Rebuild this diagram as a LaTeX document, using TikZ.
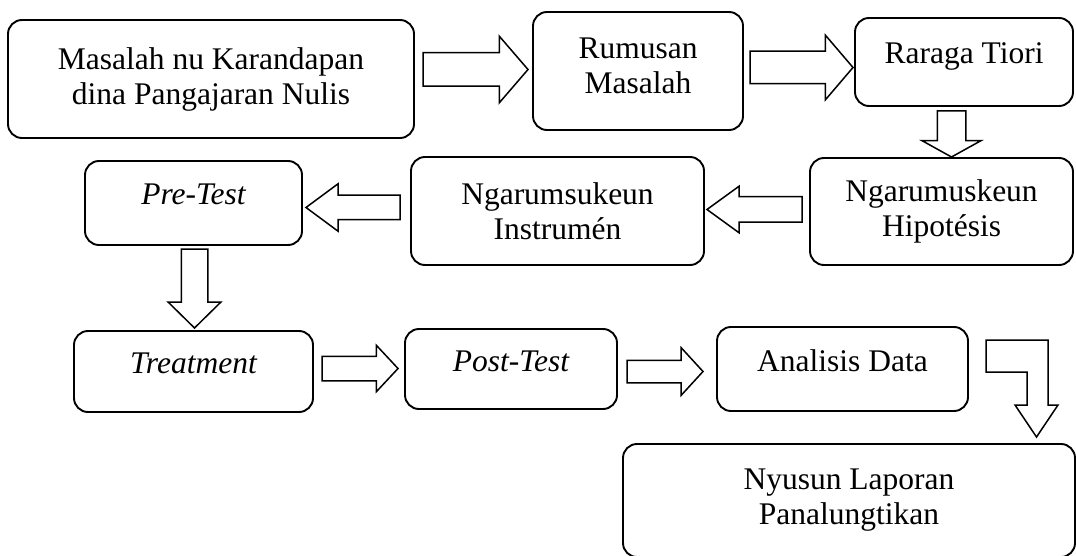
\documentclass[tikz,border=0pt]{standalone}
\usepackage{fontspec}
\setmainfont{Liberation Serif}
\usetikzlibrary{shapes.arrows}

\tikzset{
  box/.style={draw, rounded corners=14pt, line width=1.9pt, align=center, inner sep=0pt},
  oneline/.style={text height=22pt, text depth=18pt},
  % shaft half width, head extend, length, tip angle
  blk/.style n args={4}{draw, single arrow, line width=1.5pt, inner xsep=0pt, inner ysep=#1,
    outer sep=0pt, anchor=tail,
    single arrow head extend=#2, single arrow head indent=0pt, minimum height=#3,
    single arrow tip angle=#4},
}

\begin{document}
\begin{tikzpicture}[x=1pt, y=-1pt, font=\fontsize{31.5}{35}\selectfont]
        \useasboundingbox (0,0) rectangle (1076,556);
        \path
        % 1st row
        +(211, 79)    node[box, minimum width=406pt, minimum height=118pt]  (masalah) {Masalah nu Karandapan\\dina Pangajaran Nulis}
        +(638, 71)    node[box, minimum width=210pt, minimum height=118pt]  (rumusan) {Rumusan\\Masalah\rule[-10pt]{0pt}{0pt}}
        +(964, 62)    node[box, oneline, minimum width=218pt, minimum height=88pt]  (raraga) {Raraga Tiori}
        % 2nd row
        +(941.5, 211.5) node[box, minimum width=263pt, minimum height=107pt]  (hipotesis) {Ngarumuskeun\\Hipotésis}
        +(557.5, 211) node[box, minimum width=293pt, minimum height=108pt]  (instrumen) {Ngarumsukeun\\Instrumén}
        +(193.5, 203) node[box, oneline, minimum width=217pt, minimum height=84pt]  (pretest) {\itshape Pre-Test}
        % 3rd row
        +(193.5, 371.5) node[box, oneline, minimum width=239pt, minimum height=81pt]  (treatment) {\itshape Treatment}
        +(511, 369)   node[box, oneline, minimum width=212pt, minimum height=80pt]  (posttest) {\itshape Post-Test}
        +(842.5, 369) node[box, oneline, minimum width=251pt, minimum height=84pt]  (analisis) {Analisis Data}
        % last box
        +(849, 500.5) node[box, minimum width=452pt, minimum height=113pt]  (laporan) {Nyusun Laporan\\Panalungtikan};

        % block arrows, placed by their tails
        \path
        +(423, 69.5)    node[blk={16pt}{16.5pt}{105pt}{98.5}]  (ar1) {}
        +(750, 67.5)    node[blk={15.5pt}{16pt}{103pt}{99}]  (ar2) {}
        +(951.5, 111)   node[blk={13.5pt}{15.5pt}{46pt}{122}, rotate=-90]  (ar3) {}
        +(802, 209.5)   node[blk={12pt}{10.5pt}{95pt}{72}, rotate=180]  (ar4) {}
        +(400, 207.5)   node[blk={11.5pt}{11.5pt}{94pt}{73}, rotate=180]  (ar5) {}
        +(194.5, 249)   node[blk={12.5pt}{13pt}{79pt}{91}, rotate=-90]  (ar6) {}
        +(322, 368.5)   node[blk={11.5pt}{11pt}{76pt}{94}]  (ar7) {}
        +(627, 371.5)   node[blk={10.5pt}{12.5pt}{76pt}{95}]  (ar8) {};

        % bent arrow down to the report
        \draw[line width=1.5pt] (986,340) -- (1048,340) -- (1048,405) -- (1058,405) -- (1036.5,437)
            -- (1015,405) -- (1027,405) -- (1027,372) -- (986,372) -- cycle;

    \end{tikzpicture}
\end{document}
